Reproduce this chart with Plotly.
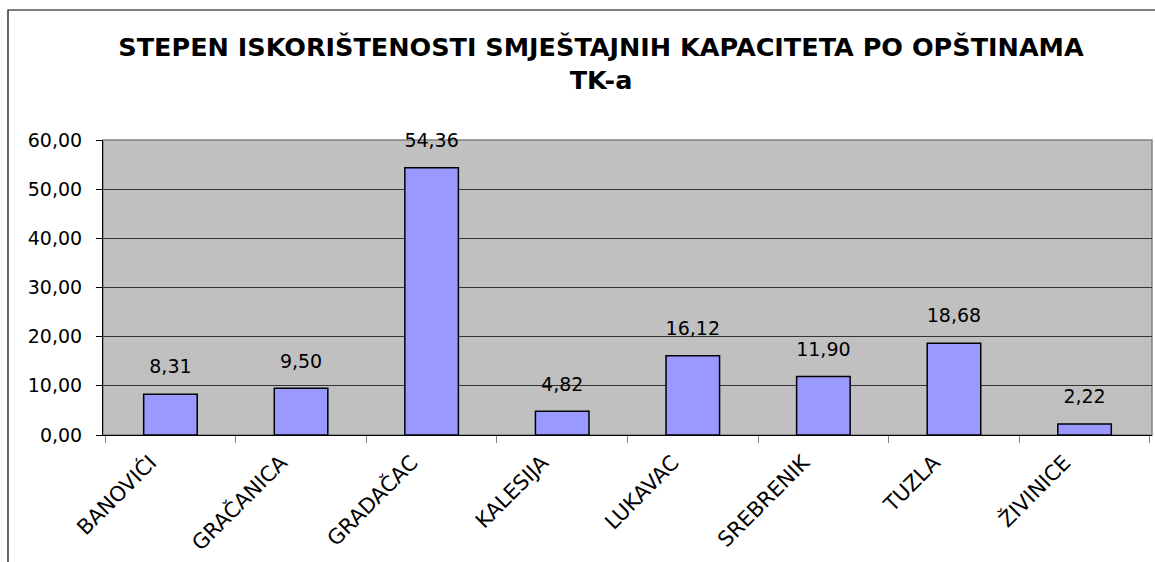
import plotly.graph_objects as go

categories = ["BANOVIĆI", "GRAČANICA", "GRADAČAC", "KALESIJA", "LUKAVAC", "SREBRENIK", "TUZLA", "ŽIVINICE"]
values = [8.31, 9.50, 54.36, 4.82, 16.12, 11.90, 18.68, 2.22]
title_lines = ["STEPEN ISKORIŠTENOSTI SMJEŠTAJNIH KAPACITETA PO OPŠTINAMA", "TK-a"]

FONT = "DejaVu Sans, Arial, sans-serif"

fig = go.Figure()
fig.add_trace(go.Bar(
    x=categories, y=values,
    marker=dict(color="#9999FF", line=dict(color="black", width=1.5)),
    width=0.41,
    hoverinfo="skip",
))
fig.add_trace(go.Scatter(
    x=categories, y=values,
    mode="markers+text",
    marker=dict(size=24, color="rgba(0,0,0,0)"),
    text=[f"{v:.2f}".replace(".", ",") for v in values],
    textposition="top center",
    textfont=dict(family=FONT, size=19, color="black"),
    cliponaxis=False,
))

L, R, T, B = 103, 3, 140, 127
W, H = 1155, 562
pw, ph = W - L - R, H - T - B

fig.update_layout(
    width=W, height=H,
    margin=dict(l=L, r=R, t=T, b=B),
    paper_bgcolor="white",
    plot_bgcolor="#C0C0C0",
    separators=",.",
    showlegend=False,
    title=dict(
        text="<b>" + title_lines[0] + "</b><br><b>" + title_lines[1] + "</b>",
        x=(601 - L) / pw, xref="paper", xanchor="center",
        y=1 - 56 / H, yanchor="middle",
        font=dict(family=FONT, size=25.5, color="black"),
    ),
    xaxis=dict(
        showline=True, linecolor="black", linewidth=1,
        ticks="outside", tickson="boundaries", ticklen=7, tickcolor="#808080",
        tickangle=-45,
        tickfont=dict(family=FONT, size=21, color="black"),
        ticklabelshift=-20, ticklabelstandoff=6,
        showgrid=False,
    ),
    yaxis=dict(
        range=[0, 60], dtick=10, tickformat=".2f",
        showline=True, linecolor="black", linewidth=1,
        ticks="outside", ticklen=6, tickcolor="black",
        tickfont=dict(family=FONT, size=19, color="black"),
        ticklabelstandoff=10,
        showgrid=True, gridcolor="#333333", gridwidth=1,
        zeroline=False,
    ),
    shapes=[
        dict(type="rect", xref="paper", yref="paper",
             x0=0, x1=1, y0=0, y1=1,
             line=dict(color="#808080", width=1.5), layer="below"),
        dict(type="rect", xref="paper", yref="paper",
             x0=(8 - L) / pw, x1=1.2, y0=-0.6, y1=1 + (T - 10) / ph,
             line=dict(color="black", width=1.2), layer="below"),
    ],
)

fig.write_html(
    "out.html",
    config={"displayModeBar": False},
    post_script="document.body.style.margin='0';document.body.style.overflow='hidden';",
)
